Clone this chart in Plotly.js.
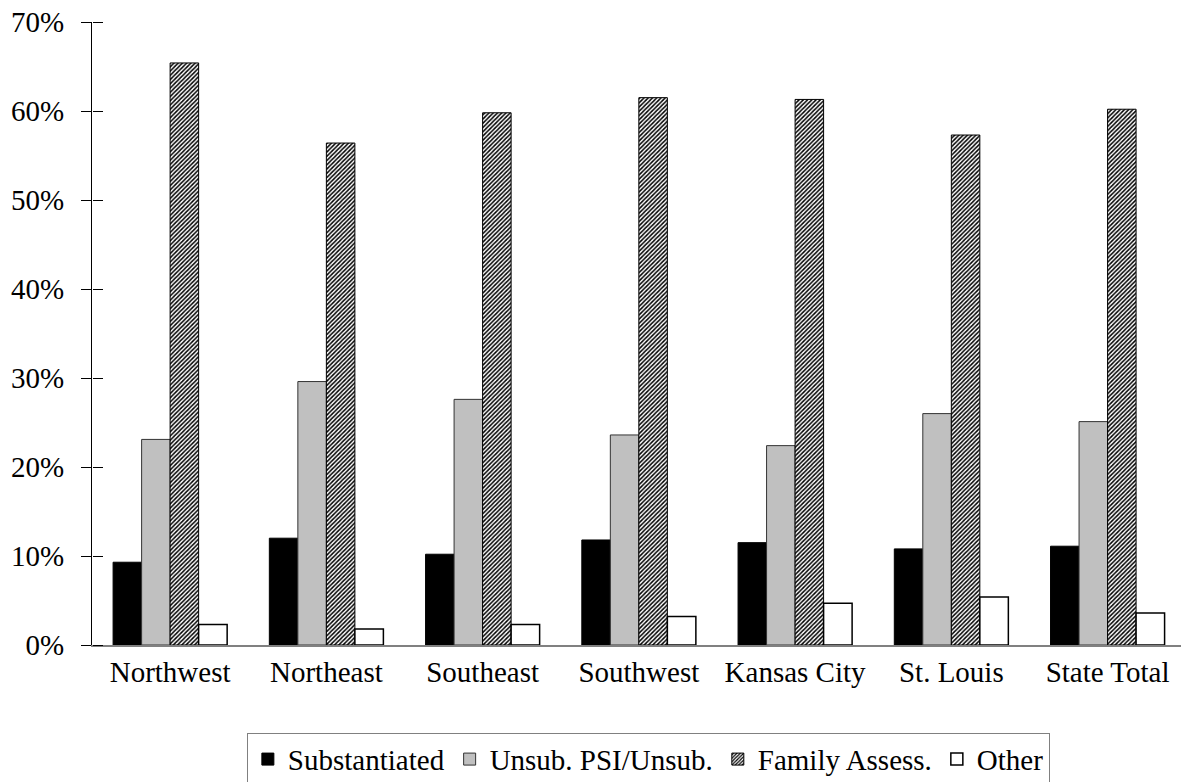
<!DOCTYPE html>
<html>
<head>
<meta charset="utf-8">
<script src="https://cdn.plot.ly/plotly-3.0.1.min.js"></script>
<style>html,body{margin:0;padding:0;background:#fff;}#chart{width:1181px;height:782px;}</style>
</head>
<body>
<div id="chart"></div>
<script>
const regions = ["Northwest", "Northeast", "Southeast", "Southwest", "Kansas City", "St. Louis", "State Total"];
const substantiated = [9.3, 12.0, 10.2, 11.8, 11.5, 10.8, 11.1];
const unsubPSI = [23.1, 29.6, 27.6, 23.6, 22.4, 26.0, 25.1];
const familyAssess = [65.4, 56.4, 59.8, 61.5, 61.3, 57.3, 60.2];
const other = [2.3, 1.8, 2.3, 3.2, 4.7, 5.4, 3.6];
const yTicks = [0, 10, 20, 30, 40, 50, 60, 70];
const yTickText = ["0%", "10%", "20%", "30%", "40%", "50%", "60%", "70%"];

const font = "Liberation Serif, Times New Roman, serif";

const traces = [
  {type: "bar", name: "Substantiated", x: regions, y: substantiated,
   marker: {color: "#000000", line: {color: "#000000", width: 1}}},
  {type: "bar", name: "Unsub. PSI/Unsub.", x: regions, y: unsubPSI,
   marker: {color: "#C0C0C0", line: {color: "#333333", width: 1}}},
  {type: "bar", name: "Family Assess.", x: regions, y: familyAssess,
   marker: {color: "#FFFFFF", line: {color: "#000000", width: 1},
            pattern: {shape: "/", fgcolor: "#000000", bgcolor: "#FFFFFF", size: 3, solidity: 0.5}}},
  {type: "bar", name: "Other", x: regions, y: other,
   marker: {color: "#FFFFFF", line: {color: "#000000", width: 1.5}}},
  {type: "scatter", mode: "markers", x: regions, y: substantiated, yaxis: "y2",
   marker: {opacity: 0}, showlegend: false, hoverinfo: "skip"}
];

const layout = {
  width: 1181, height: 782,
  paper_bgcolor: "#FFFFFF", plot_bgcolor: "#FFFFFF",
  font: {family: font, color: "#000000", size: 29},
  margin: {l: 92, r: 0, t: 22, b: 137},
  barmode: "group", bargap: 0.27, bargroupgap: 0,
  showlegend: true,
  xaxis: {
    type: "category", range: [-0.5, 6.47],
    showline: true, linecolor: "#808080", linewidth: 2,
    ticks: "", showgrid: false, zeroline: false,
    tickfont: {family: font, size: 29, color: "#000000"}
  },
  yaxis: {
    range: [0, 70], tickvals: yTicks, ticktext: yTickText,
    showline: true, linecolor: "#000000", linewidth: 1,
    ticks: "outside", ticklen: 10, tickcolor: "#000000", tickwidth: 1,
    showgrid: false, zeroline: false,
    ticklabelstandoff: 11,
    tickfont: {family: font, size: 29, color: "#000000"}
  },
  yaxis2: {
    overlaying: "y", anchor: "free", position: 0, side: "right",
    range: [0, 70], tickvals: yTicks,
    showticklabels: false, showline: false, showgrid: false, zeroline: false,
    ticks: "outside", ticklen: 10, tickcolor: "#000000", tickwidth: 1
  },
  legend: {
    orientation: "h", xref: "container", yref: "container",
    x: 0.549, xanchor: "center", y: 0.063, yanchor: "top",
    bordercolor: "#808080", borderwidth: 1, bgcolor: "#FFFFFF",
    font: {family: font, size: 29, color: "#000000"},
    itemwidth: 30, tracegroupgap: 0
  }
};

Plotly.newPlot("chart", traces, layout, {displayModeBar: false, staticPlot: true});
</script>
</body>
</html>
